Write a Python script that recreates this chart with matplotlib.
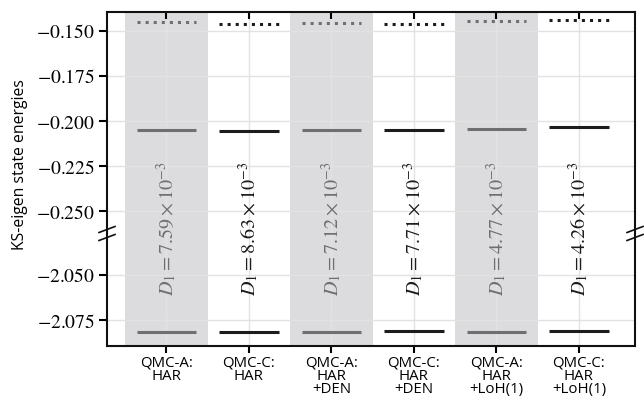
import matplotlib
matplotlib.use("Agg")
import matplotlib.pyplot as plt
from matplotlib.lines import Line2D
from matplotlib.transforms import blended_transform_factory

plt.rcParams['mathtext.fontset'] = 'stix'

# ---------------------------------------------------
# DATA
# ---------------------------------------------------
categories = ["QMC-A:\nHAR", "QMC-C:\nHAR", "QMC-A:\nHAR\n+DEN",
              "QMC-C:\nHAR\n+DEN", "QMC-A:\nHAR\n+LoH(1)", "QMC-C:\nHAR\n+LoH(1)"]
lumo = [-0.1454, -0.1464, -0.1456, -0.1464, -0.1448, -0.1441]
homo = [-0.2048, -0.2054, -0.2049, -0.2052, -0.2042, -0.2035]
core = [-2.0815, -2.0814, -2.0815, -2.0813, -2.0815, -2.0813]
d1_values = ["7.59", "8.63", "7.12", "7.71", "4.77", "4.26"]

top_ticks = [-0.150, -0.175, -0.200, -0.225, -0.250]
bottom_ticks = [-2.050, -2.075]

gray_c = '#6f6f6f'
black_c = '#1c1c1c'
span_c = '#dcdcdf'
grid_c = '#e2e2e2'

fig = plt.figure(figsize=(6.44, 4.0), dpi=100)
left, right = 107 / 644, 635 / 644
split = 233.5
ax_top = fig.add_axes([left, 1 - split / 400, right - left, (split - 12) / 400])
ax_bot = fig.add_axes([left, 1 - 346 / 400, right - left, (346 - split) / 400])

x = list(range(len(categories)))
hw = 0.36

for ax in (ax_top, ax_bot):
    for i in x:
        if i % 2 == 0:
            ax.axvspan(i - 0.5, i + 0.5, color=span_c, zorder=0, lw=0)
    ax.set_xlim(-0.72, 5.68)
    ax.set_xticks(x)
    ax.grid(True, color=grid_c, lw=1.0, zorder=0.5)
    ax.set_axisbelow(True)
    for s in ax.spines.values():
        s.set_linewidth(1.5)
        s.set_color('#111111')
    ax.tick_params(axis='y', direction='out', length=6, width=1.5, labelsize=14, pad=3)

for i in x:
    c = gray_c if i % 2 == 0 else black_c
    ax_top.hlines(lumo[i], i - hw, i + hw, colors=c, lw=2.2, linestyles=':', zorder=3)
    ax_top.hlines(homo[i], i - hw, i + hw, colors=c, lw=2.2, zorder=3)
    ax_bot.hlines(core[i], i - hw, i + hw, colors=c, lw=2.2, zorder=3)

ax_top.set_ylim(-0.2622, -0.13963)
ax_bot.set_ylim(-2.0893, -2.02726)
ax_top.set_yticks(top_ticks)
ax_bot.set_yticks(bottom_ticks)
ax_top.set_yticklabels(["$-%.3f$" % abs(v) for v in top_ticks])
ax_bot.set_yticklabels(["$-%.3f$" % abs(v) for v in bottom_ticks])

ax_top.spines['bottom'].set_visible(False)
ax_bot.spines['top'].set_visible(False)
ax_top.tick_params(axis='x', bottom=False, top=True, direction='in', length=5,
                   width=1.5, labelbottom=False, labeltop=False)
ax_bot.tick_params(axis='x', direction='out', length=5, width=1.5, pad=2)
ax_bot.set_xticklabels(categories, family='Open Sans', fontsize=10.8, linespacing=0.82)

# rotated D_1 annotations, drawn on the figure so they cross the break
trans = blended_transform_factory(ax_top.transData, fig.transFigure)
for i in x:
    c = gray_c if i % 2 == 0 else black_c
    fig.text(i, 1 - 229 / 400, r"$D_1 = %s\times 10^{-3}$" % d1_values[i],
             transform=trans, rotation=90, ha='center', va='center',
             fontsize=14.5, color=c, zorder=5)

# break marks
for xc in (107, 635):
    for yc in (229.5, 237.5):
        fig.add_artist(Line2D([(xc - 8) / 644, (xc + 8) / 644],
                              [1 - (yc + 3) / 400, 1 - (yc - 3) / 400],
                              color='#111111', lw=1.2, zorder=5))

fig.text(20 / 644, 1 - 165 / 400, "KS-eigen state energies", rotation=90,
         ha='center', va='center', family='Open Sans', fontsize=11.3)

fig.savefig("out.png", dpi=100)
